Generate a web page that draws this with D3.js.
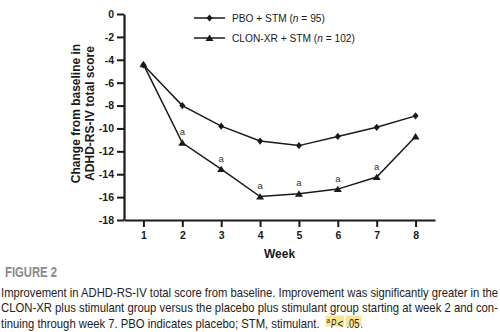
<!DOCTYPE html>
<html>
<head>
<meta charset="utf-8">
<script src="https://cdn.jsdelivr.net/npm/d3@7"></script>
<style>
  html, body { margin: 0; padding: 0; background: #fff; }
  svg { display: block; font-family: "Liberation Sans", Arial, sans-serif; }
</style>
</head>
<body>
<svg width="500" height="332"></svg>
<script>
const weeks = [1, 2, 3, 4, 5, 6, 7, 8];
const pboValues = [-4.45, -8.0, -9.8, -11.1, -11.5, -10.7, -9.9, -8.9];
const clonValues = [-4.4, -11.25, -13.55, -15.95, -15.7, -15.3, -14.25, -10.7];
const sigWeeks = [2, 3, 4, 5, 6, 7];
const yTicks = [0, -2, -4, -6, -8, -10, -12, -14, -16, -18];
const seriesNames = ['PBO + STM (', 'CLON-XR + STM ('];
const seriesN = ['95', '102'];
const captionLines = [
	'Improvement in ADHD-RS-IV total score from baseline. Improvement was significantly greater in the',
	'CLON-XR plus stimulant group versus the placebo plus stimulant group starting at week 2 and con-',
	'tinuing through week 7. PBO indicates placebo; STM, stimulant.',
];

const svg = d3.select('svg');
const ink = '#1a1a1a';

const x = d3.scaleLinear().domain([0.5, 8.5]).range([124, 435]);
const y = d3.scaleLinear().domain([0, -18]).range([14, 220]);

// axes (plain hyphen for negatives)
const yAxis = svg
	.append('g')
	.attr('transform', `translate(${x(0.5)},0)`)
	.call(
		d3.axisLeft(y)
			.tickValues(yTicks)
			.tickFormat((d) => String(d))
			.tickSize(7)
			.tickPadding(3)
			.tickSizeOuter(0)
	);
const xAxis = svg
	.append('g')
	.attr('transform', `translate(0,${y(-18)})`)
	.call(d3.axisBottom(x).tickValues(weeks).tickSize(7).tickPadding(5).tickSizeOuter(0));

[yAxis, xAxis].forEach((ax) => {
	ax.select('.domain').attr('stroke', ink).attr('stroke-width', 2.2);
	ax.selectAll('.tick line').attr('stroke', ink).attr('stroke-width', 2);
	ax.selectAll('.tick text')
		.attr('fill', ink)
		.attr('font-size', 10.5)
		.attr('font-weight', 'bold')
		.attr('font-family', '"Liberation Sans", Arial, sans-serif');
});

// axis titles
svg.append('text')
	.attr('x', x(4.5))
	.attr('y', 257.5)
	.attr('text-anchor', 'middle')
	.attr('font-size', 12)
	.attr('font-weight', 'bold')
	.attr('fill', ink)
	.text('Week');

const yTitle = svg
	.append('text')
	.attr('transform', 'translate(80,113.5) rotate(-90)')
	.attr('text-anchor', 'middle')
	.attr('font-size', 12)
	.attr('font-weight', 'bold')
	.attr('fill', ink);
yTitle.append('tspan').attr('x', 0).attr('y', 0).text('Change from baseline in');
yTitle.append('tspan').attr('x', 0).attr('y', 13.5).text('ADHD-RS-IV total score');

// markers
const diamond = 'M0,-3.6L3,0L0,3.6L-3,0Z';
const triangle = 'M0,-3.4L4,3L-4,3Z';

const line = d3
	.line()
	.x((d, i) => x(weeks[i]))
	.y((d) => y(d));

const series = [
	{ values: pboValues, marker: diamond },
	{ values: clonValues, marker: triangle },
];

series.forEach((s) => {
	svg.append('path')
		.datum(s.values)
		.attr('d', line)
		.attr('fill', 'none')
		.attr('stroke', ink)
		.attr('stroke-width', 1.5);
	svg.append('g')
		.selectAll('path')
		.data(s.values)
		.join('path')
		.attr('d', s.marker)
		.attr('transform', (d, i) => `translate(${x(weeks[i])},${y(d)})`)
		.attr('fill', ink);
});

// significance marks
svg.append('g')
	.selectAll('text')
	.data(sigWeeks)
	.join('text')
	.attr('x', (w) => x(w))
	.attr('y', (w) => y(clonValues[weeks.indexOf(w)]) - 7.5)
	.attr('text-anchor', 'middle')
	.attr('font-size', 9.5)
	.attr('fill', '#333')
	.text('a');

// legend
const legend = svg
	.append('g')
	.selectAll('g')
	.data(series)
	.join('g')
	.attr('transform', (d, i) => `translate(194,${18 + i * 20})`);
legend.append('line').attr('x1', 0).attr('x2', 31).attr('stroke', ink).attr('stroke-width', 1.5);
legend.append('path').attr('d', (d) => d.marker).attr('transform', 'translate(15.5,0)').attr('fill', ink);
const legendText = legend
	.append('text')
	.attr('x', 38)
	.attr('y', 3.6)
	.attr('font-size', 10.2)
	.attr('fill', ink);
legendText.append('tspan').text((d, i) => seriesNames[i]);
legendText.append('tspan').attr('font-style', 'italic').text('n');
legendText.append('tspan').text((d, i) => ' = ' + seriesN[i] + ')');

// caption: narrow type, each run squeezed horizontally to its width
const narrow = '"Liberation Sans Narrow", "Arial Narrow", "Liberation Sans", sans-serif';

function fitText(str, x0, y0, width, opts) {
	const t = svg
		.append('text')
		.attr('font-family', narrow)
		.attr('font-size', opts.size)
		.attr('font-weight', opts.weight || 'normal')
		.attr('font-style', opts.italic ? 'italic' : 'normal')
		.attr('fill', opts.fill)
		.text(str);
	const natural = t.node().getComputedTextLength();
	t.attr('transform', `translate(${x0},${y0}) scale(${width / natural},1)`);
	return t;
}

fitText('FIGURE 2', 5, 277, 52, { size: 15.5, weight: 'bold', fill: '#8a8a8a' });

svg.append('rect').attr('x', 325.5).attr('y', 315.5).attr('width', 18.5).attr('height', 11).attr('fill', '#fde58f');
svg.append('rect').attr('x', 345.5).attr('y', 315.5).attr('width', 16).attr('height', 11).attr('fill', '#fde58f');

const captionEnds = [498.5, 498.5, 320];
captionLines.forEach((str, i) => {
	fitText(str, 1, 296.5 + i * 15.6, captionEnds[i] - 1, { size: 12, fill: '#222' });
});

// footnote: superscript a, italic P, "< .05."
const pParts = [
	{ t: 'a', x: 326.5, w: 3.6, size: 7.5, dy: -4.5, italic: false },
	{ t: 'P', x: 331, w: 5.2, size: 12, dy: 0, italic: true },
	{ t: '<', x: 337.5, w: 5.8, size: 12, dy: 0, italic: false },
	{ t: '.05', x: 346.5, w: 13, size: 12, dy: 0, italic: false },
	{ t: '.', x: 360.5, w: 2.2, size: 12, dy: 0, italic: false },
];
pParts.forEach((p) => {
	fitText(p.t, p.x, 327.7 + p.dy, p.w, { size: p.size, italic: p.italic, fill: '#222' });
});
</script>
</body>
</html>
